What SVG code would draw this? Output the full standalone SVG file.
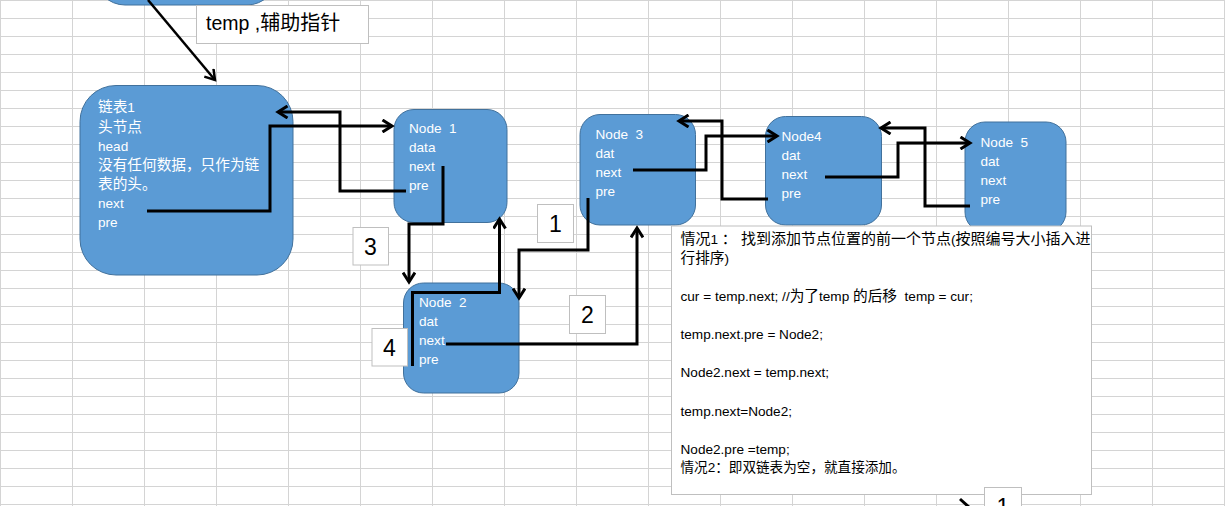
<svg xmlns="http://www.w3.org/2000/svg" width="1225" height="506" viewBox="0 0 1225 506">
<style>
.grid{stroke:#d4d4d4;stroke-width:1;fill:none}
.node{fill:#5b9bd5;stroke:#41719c;stroke-width:1}
.nt{fill:#fff;font-family:"Liberation Sans","Noto Sans CJK SC",sans-serif;font-size:13.6px;white-space:pre}
.cj{font-size:14.67px}
.box{fill:#fff;stroke:#bfbfbf;stroke-width:1}
.bt{fill:#000;font-family:"Liberation Sans","Noto Sans CJK SC",sans-serif;font-size:13.6px;white-space:pre}
.num{fill:#000;font-family:"Liberation Sans",sans-serif;font-size:23px;text-anchor:middle}
.con{fill:none;stroke:#000;stroke-width:3;stroke-linejoin:miter}
</style>
<defs>
<marker id="ah" markerWidth="14" markerHeight="14" refX="11" refY="7" orient="auto" markerUnits="userSpaceOnUse">
<path d="M1.5,1 L11,7 L1.5,13" fill="none" stroke="#000" stroke-width="3"/>
</marker>
<marker id="ah2" markerWidth="14" markerHeight="14" refX="11" refY="7" orient="auto" markerUnits="userSpaceOnUse">
<path d="M1.5,1 L11,7 L1.5,13" fill="none" stroke="#000" stroke-width="2.5"/>
</marker>
</defs>
<rect width="1225" height="506" fill="#fff"/>
<path class="grid" d="M0.5 0V506M72.5 0V506M144.5 0V506M216.5 0V506M288.5 0V506M360.5 0V506M432.5 0V506M504.5 0V506M576.5 0V506M648.5 0V506M720.5 0V506M792.5 0V506M864.5 0V506M936.5 0V506M1008.5 0V506M1080.5 0V506M1152.5 0V506M1224.5 0V506M0 0.5H1225M0 18.5H1225M0 36.5H1225M0 54.5H1225M0 72.5H1225M0 90.5H1225M0 108.5H1225M0 126.5H1225M0 144.5H1225M0 162.5H1225M0 180.5H1225M0 198.5H1225M0 216.5H1225M0 234.5H1225M0 252.5H1225M0 270.5H1225M0 288.5H1225M0 306.5H1225M0 324.5H1225M0 342.5H1225M0 360.5H1225M0 378.5H1225M0 396.5H1225M0 414.5H1225M0 432.5H1225M0 450.5H1225M0 468.5H1225M0 486.5H1225M0 504.5H1225"/>

<g id="temp-node">
<rect class="node" x="95" y="-60" width="182" height="65" rx="30"/>
</g>
<g id="temp-label">
<rect class="box" x="196.5" y="5.5" width="172" height="38"/>
<text x="206" y="30" style="font-family:'Liberation Sans','Noto Sans CJK SC',sans-serif;font-size:19.5px;fill:#000">temp ,<tspan style="font-size:20px">辅助指针</tspan></text>
</g>

<g id="head">
<rect class="node" x="80" y="85.5" width="213" height="189.5" rx="36"/>
<text class="nt" x="98" y="112"><tspan class="cj">链表</tspan>1</text>
<text class="nt cj" x="98" y="132">头节点</text>
<text class="nt" x="98" y="151">head</text>
<text class="nt cj" x="98" y="170">没有任何数据，只作为链</text>
<text class="nt cj" x="98" y="189">表的头。</text>
<text class="nt" x="98" y="208">next</text>
<text class="nt" x="98" y="227">pre</text>
</g>

<g id="node1">
<rect class="node" x="394" y="109.5" width="113" height="113" rx="20"/>
<text class="nt" x="409" y="133">Node  1</text>
<text class="nt" x="409" y="152">data</text>
<text class="nt" x="409" y="171">next</text>
<text class="nt" x="409" y="190">pre</text>
</g>

<g id="node2">
<rect class="node" x="403.5" y="283" width="115.5" height="110" rx="20"/>
<text class="nt" x="419" y="307">Node  2</text>
<text class="nt" x="419" y="326">dat</text>
<text class="nt" x="419" y="345">next</text>
<text class="nt" x="419" y="364">pre</text>
</g>

<g id="node3">
<rect class="node" x="580" y="114.5" width="115.5" height="110.5" rx="20"/>
<text class="nt" x="595.5" y="139">Node  3</text>
<text class="nt" x="595.5" y="158">dat</text>
<text class="nt" x="595.5" y="177">next</text>
<text class="nt" x="595.5" y="196">pre</text>
</g>

<g id="node4">
<rect class="node" x="765.5" y="116.5" width="116" height="108.5" rx="20"/>
<text class="nt" x="781.5" y="141">Node4</text>
<text class="nt" x="781.5" y="160">dat</text>
<text class="nt" x="781.5" y="179">next</text>
<text class="nt" x="781.5" y="198">pre</text>
</g>

<g id="node5">
<rect class="node" x="965" y="122" width="101" height="110" rx="20"/>
<text class="nt" x="980.5" y="146.5">Node  5</text>
<text class="nt" x="980.5" y="166">dat</text>
<text class="nt" x="980.5" y="185">next</text>
<text class="nt" x="980.5" y="204">pre</text>
</g>

<g id="connectors">
<path class="con" d="M148,0 L215,80" style="stroke-width:2.5" marker-end="url(#ah2)"/>
<path class="con" d="M147,211 H270 V126 H392" marker-end="url(#ah)"/>
<path class="con" d="M406,191 H340 V112 H278" marker-end="url(#ah)"/>
<path class="con" d="M443,166 V224 H409 V282" marker-end="url(#ah)"/>
<path class="con" d="M412.5,366 V292.5 H499.5 V219" marker-end="url(#ah)"/>
<path class="con" d="M588,198 V250 H519 V298" marker-end="url(#ah)"/>
<path class="con" d="M446,344 H637 V228" marker-end="url(#ah)"/>
<path class="con" d="M633,170 H706 V136 H777" marker-end="url(#ah)"/>
<path class="con" d="M768,199 H722 V121 H679" marker-end="url(#ah)"/>
<path class="con" d="M825,177 H898 V143 H970" marker-end="url(#ah)"/>
<path class="con" d="M970,206 H925 V128 H881" marker-end="url(#ah)"/>
<path class="con" d="M960,499 L970,508"/>
</g>

<g id="label-3">
<rect class="box" x="353" y="227.5" width="35.5" height="37.5"/>
<text class="num" x="370.5" y="255">3</text>
</g>
<g id="label-1">
<rect class="box" x="537.5" y="204.5" width="36" height="38"/>
<text class="num" x="555.5" y="232">1</text>
</g>
<g id="label-2">
<rect class="box" x="569.5" y="295.5" width="36" height="38"/>
<text class="num" x="587.5" y="323">2</text>
</g>
<g id="label-4">
<rect class="box" x="372" y="328.5" width="35.5" height="37.5"/>
<text class="num" x="389.5" y="356">4</text>
</g>

<g id="note">
<rect class="box" x="671.5" y="226" width="420" height="268.5"/>
<text class="bt" x="680.5" y="244" style="font-size:15px">情况<tspan style="font-size:13.6px">1 </tspan>： 找到添加节点位置的前一个节点<tspan style="font-size:13.6px">(</tspan>按照编号大小插入进</text>
<text class="bt" x="680.5" y="263"><tspan class="cj">行排序</tspan>)</text>
<text class="bt" x="680.5" y="301">cur = temp.next; //<tspan class="cj">为了</tspan>temp <tspan class="cj">的后移</tspan>  temp = cur;</text>
<text class="bt" x="680.5" y="339">temp.next.pre = Node2;</text>
<text class="bt" x="680.5" y="377">Node2.next = temp.next;</text>
<text class="bt" x="680.5" y="415.5">temp.next=Node2;</text>
<text class="bt" x="680.5" y="453.5">Node2.pre =temp;</text>
<text class="bt cj" x="680.5" y="472">情况<tspan style="font-size:13.6px">2</tspan>：即双链表为空，就直接添加。</text>
</g>

<g id="label-1b">
<rect class="box" x="984.5" y="487.5" width="37" height="40"/>
<text class="num" x="1003" y="515">1</text>
</g>
</svg>
